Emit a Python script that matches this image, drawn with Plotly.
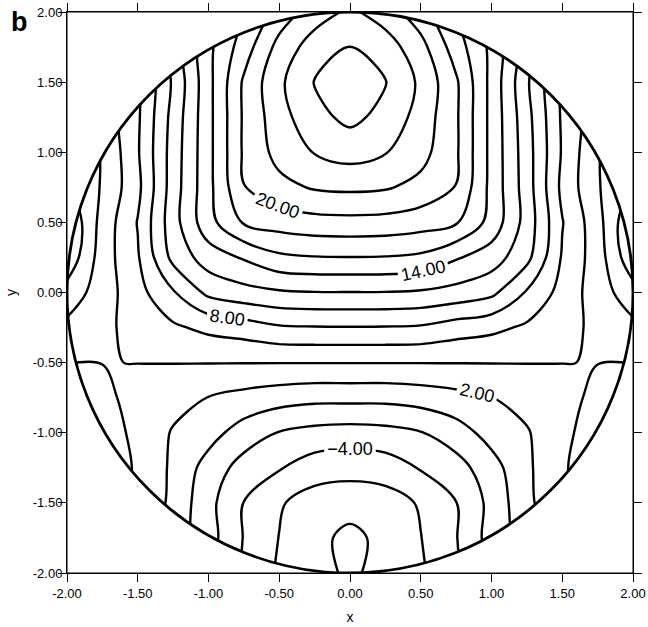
import numpy as np
import plotly.graph_objects as go

FONT = "Arial, Liberation Sans, sans-serif"
RADIUS = 2.0

# grid columns for the right half (x >= 0); the field is mirrored about x = 0
X_HALF = [0.0, 0.25, 0.5, 0.75, 1.0, 1.25, 1.5, 1.75, 2.0]
# grid rows, top to bottom
Y_ROWS = [2.0, 1.75, 1.5, 1.25, 1.0, 0.75, 0.5, 0.25, 0.0,
          -0.25, -0.5, -0.75, -1.0, -1.25, -1.5, -1.75, -2.0]
# field values, one row per entry of Y_ROWS, one column per entry of X_HALF
Z_HALF = [
    [24.4, 23.0, 20.8, 17.9, 14.8, 10.8, 6.0, 2.8, 1.2],
    [26.05, 25.0, 22.7, 19.0, 15.5, 11.0, 6.0, 2.8, 1.2],
    [27.0, 26.1, 23.6, 20.3, 15.4, 10.3, 5.6, 2.6, 1.2],
    [26.5, 25.4, 23.2, 20.3, 15.4, 10.7, 5.7, 2.7, 1.2],
    [24.8, 24.1, 22.7, 20.3, 15.4, 10.9, 5.8, 2.1, 1.0],
    [22.4, 22.2, 21.4, 19.95, 15.4, 11.0, 5.5, 2.2, -0.3],
    [19.4, 19.3, 18.9, 18.2, 15.3, 11.2, 6.1, 2.75, -2.0],
    [15.95, 15.9, 15.6, 14.2, 13.0, 10.6, 5.8, 3.0, -1.5],
    [11.95, 11.93, 11.75, 11.3, 10.5, 7.8, 5.3, 3.0, 0.8],
    [7.9, 7.88, 7.75, 7.0, 6.5, 5.67, 4.9, 3.4, 2.5],
    [4.05, 4.05, 4.05, 4.05, 4.05, 4.04, 4.02, 3.97, 3.95],
    [0.57, 0.55, 0.85, 1.36, 1.95, 2.8, 3.3, 4.5, 5.0],
    [-2.84, -2.63, -2.1, -0.9, 0.75, 1.8, 3.75, 4.5, 5.0],
    [-5.33, -5.05, -3.85, -2.83, -0.8, 1.6, 3.9, 4.5, 5.0],
    [-7.1, -6.9, -5.8, -4.05, -1.4, 1.5, 3.8, 4.5, 5.0],
    [-8.6, -7.35, -6.05, -4.1, -1.2, 1.0, 3.0, 4.0, 4.5],
    [-8.2, -7.6, -6.3, -4.3, -1.8, 0.8, 2.8, 3.8, 4.2],
]

# contour levels every 2 units, drawn as families spaced 6 apart;
# only the -4, 2, 8, 14, 20 family carries value labels
FAMILY_STEP = 6
LABELLED_FAMILY = (-4, 20)
PLAIN_FAMILIES = [(-6, 24), (-8, 22), (26, 26)]
# labels are kept off the narrow rim strips |x| > LABEL_LIMIT
LABEL_LIMIT = 1.75

AXIS_TICKS = [-2.0, -1.5, -1.0, -0.5, 0.0, 0.5, 1.0, 1.5, 2.0]
AXIS_TICK_TEXT = [f"{v:.2f}" for v in AXIS_TICKS]

# full mirrored grid, rows ordered by increasing y
x_full = np.array([-v for v in X_HALF[:0:-1]] + X_HALF)
z_full = np.array([row[:0:-1] + row for row in Z_HALF][::-1])
y_full = np.array(Y_ROWS[::-1])

black_scale = [[0, "black"], [1, "black"]]


def contour_family(start, end, labelled, cols=None):
    xs, zs = x_full, z_full
    if cols is not None:
        xs, zs = x_full[cols], z_full[:, cols]
    return go.Contour(
        x=xs, y=y_full, z=zs,
        autocontour=False,
        contours=dict(start=start, end=end, size=FAMILY_STEP,
                      coloring="lines", showlabels=labelled,
                      labelformat=".2f",
                      labelfont=dict(family=FONT, size=18, color="black")),
        line=dict(width=2.4, smoothing=1.0),
        colorscale=black_scale, showscale=False, hoverinfo="skip",
    )


inner = np.abs(x_full) <= LABEL_LIMIT + 1e-9
left_rim = x_full <= -LABEL_LIMIT + 1e-9
right_rim = x_full >= LABEL_LIMIT - 1e-9

fig = go.Figure()
for s, e in PLAIN_FAMILIES:
    fig.add_trace(contour_family(s, e, False))
fig.add_trace(contour_family(*LABELLED_FAMILY, True, inner))
fig.add_trace(contour_family(*LABELLED_FAMILY, False, left_rim))
fig.add_trace(contour_family(*LABELLED_FAMILY, False, right_rim))

# white mask outside the circular domain
t = np.linspace(0, 2 * np.pi, 361)
cx = RADIUS * np.cos(t)
cy = RADIUS * np.sin(t)
edge = RADIUS
mask_path = (f"M {-edge},{-edge} L {edge},{-edge} L {edge},{edge} L {-edge},{edge} Z "
             + "M " + " L ".join(f"{a:.5f},{b:.5f}" for a, b in zip(cx, cy)) + " Z")

shapes = [
    dict(type="path", path=mask_path, xref="x", yref="y",
         fillcolor="white", fillrule="evenodd", line=dict(width=0), layer="above"),
    dict(type="circle", xref="x", yref="y", x0=-RADIUS, y0=-RADIUS, x1=RADIUS, y1=RADIUS,
         line=dict(color="black", width=2.8), layer="above"),
    dict(type="rect", xref="x", yref="y", x0=-RADIUS, y0=-RADIUS, x1=RADIUS, y1=RADIUS,
         line=dict(color="black", width=1), layer="above"),
]

axis_common = dict(
    range=[-RADIUS, RADIUS], tickvals=AXIS_TICKS, ticktext=AXIS_TICK_TEXT,
    ticks="outside", ticklen=8, tickwidth=1, tickcolor="black",
    mirror="ticks", showline=True, linecolor="black", linewidth=1,
    showgrid=False, zeroline=False, automargin=False,
    tickfont=dict(family=FONT, size=13, color="black"),
)

fig.update_layout(
    width=648, height=627,
    margin=dict(l=67, r=15, t=12, b=54),
    paper_bgcolor="white", plot_bgcolor="white",
    showlegend=False,
    shapes=shapes,
    xaxis=dict(axis_common,
               title=dict(text="x", font=dict(family=FONT, size=14, color="black"), standoff=12)),
    yaxis=dict(axis_common, ticklabelstandoff=-7,
               title=dict(text="y", font=dict(family=FONT, size=14, color="black"), standoff=12)),
    annotations=[dict(text="<b>b</b>", xref="paper", yref="paper", x=-0.103, y=1.013,
                      xanchor="left", yanchor="top", showarrow=False,
                      font=dict(family=FONT, size=27, color="black"))],
)

fig.write_html("out.html")
